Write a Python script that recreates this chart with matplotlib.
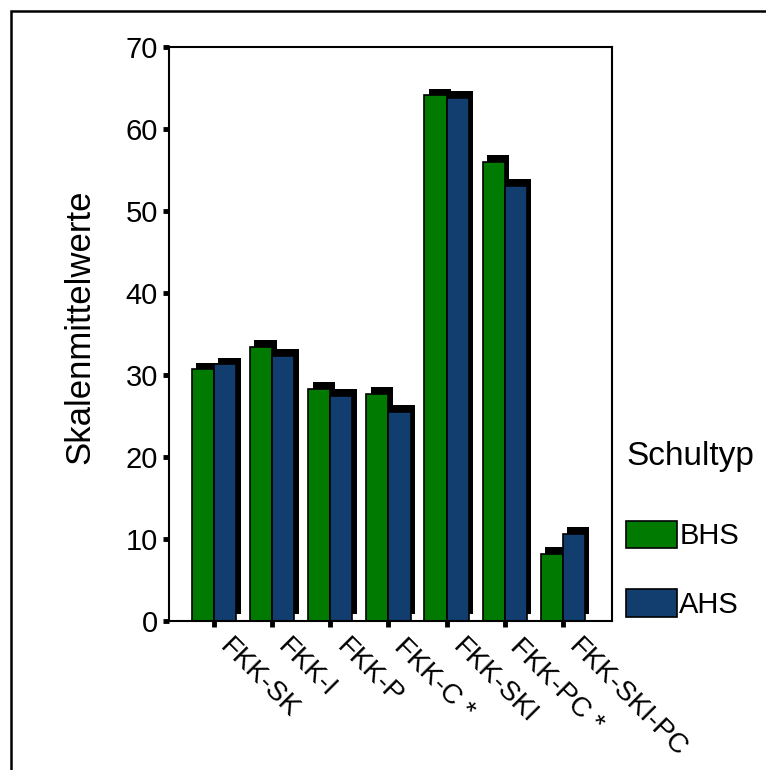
import numpy as np
import matplotlib.pyplot as plt
import matplotlib.patheffects as pe
import matplotlib.transforms as mtransforms
from matplotlib.patches import Rectangle

categories = ['FKK-SK', 'FKK-I', 'FKK-P', 'FKK-C *', 'FKK-SKI', 'FKK-PC *', 'FKK-SKI-PC']
bhs = [30.7, 33.4, 28.3, 27.7, 64.1, 56.0, 8.2]
ahs = [31.3, 32.3, 27.5, 25.5, 63.8, 53.1, 10.6]
series_names = ['BHS', 'AHS']
colors = ['#007A00', '#113D6F']

plt.rcParams['font.family'] = ['Liberation Sans', 'DejaVu Sans']

fig = plt.figure(figsize=(7.66, 7.70), dpi=100)
ax = fig.add_axes([169 / 766, 1 - 621 / 770, (612 - 169) / 766, (621 - 47) / 770])

x = np.arange(len(categories))
w = 0.38
shadow = [pe.SimplePatchShadow(offset=(3.0, 4.8), shadow_rgbFace='black', alpha=1.0), pe.Normal()]

for vals, off, c, name in [(bhs, -w / 2, colors[0], series_names[0]),
                           (ahs, w / 2, colors[1], series_names[1])]:
    bars = ax.bar(x + off, vals, w, color=c, edgecolor='black', linewidth=1.2, label=name)
    for b in bars:
        b.set_path_effects(shadow)

ax.set_xlim(-0.78, 6.85)
ax.set_ylim(0, 70)
ax.set_yticks(np.arange(0, 71, 10))
ax.set_xticks(x)
ax.set_xticklabels(categories, rotation=-45, ha='left', va='top', rotation_mode='anchor')
ax.tick_params(axis='both', direction='out', length=4, width=3.5, labelsize=21)
ax.tick_params(axis='x', pad=5, labelsize=20)
ax.tick_params(axis='y', pad=4)
shift = mtransforms.ScaledTranslation(19 / 100, 0, fig.dpi_scale_trans)
for lbl in ax.get_xticklabels():
    lbl.set_transform(lbl.get_transform() + shift)
for s in ax.spines.values():
    s.set_linewidth(1.5)

ax.set_ylabel('Skalenmittelwerte', fontsize=25)
ax.yaxis.set_label_coords(-0.165, 0.513)

leg = ax.legend(title='Schultyp', loc='upper left', bbox_to_anchor=(626 / 766, 1 - 441 / 770),
                bbox_transform=fig.transFigure,
                frameon=False, fontsize=21, title_fontsize=24,
                handlelength=1.75, handleheight=1.05, labelspacing=1.35,
                handletextpad=0.08, borderaxespad=0, borderpad=0)
leg._legend_box.align = 'left'
leg._legend_box.sep = 35
for h in leg.legend_handles:
    h.set_path_effects([])

# outer frame (only top and left edge are visible)
fig.patches.append(Rectangle((11 / 766, -0.05), 1.2, (770 - 11) / 770 + 0.05,
                             transform=fig.transFigure, fill=False,
                             edgecolor='black', linewidth=1.8))

fig.savefig('out.png', dpi=100)
